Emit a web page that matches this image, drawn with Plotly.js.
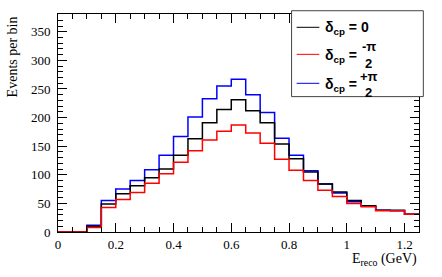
<!DOCTYPE html>
<html>
<head>
<meta charset="utf-8">
<script src="https://cdn.plot.ly/plotly-3.0.1.min.js"></script>
<style>html,body{margin:0;padding:0;background:#fff;}#plot{width:442px;height:277px;}</style>
</head>
<body>
<div id="plot"></div>
<script>
// Bin lower edges (GeV), bin width 0.05
const binLow = [0,0.05,0.10,0.15,0.20,0.25,0.30,0.35,0.40,0.45,0.50,0.55,0.60,0.65,0.70,0.75,0.80,0.85,0.90,0.95,1.00,1.05,1.10,1.15,1.20];
const binWidth = 0.05;
// Events per bin
const dcp0 =    [0,0,10,49,67,81,95,110,134,163,191,214,231,212,191,154,128,105,84,70,55,46,38,38,31];
const dcpMinus =[0,0, 8,43,57,69,85,102,122,142,161,176,187,173,155,127,108, 90,73,62,50,44,37,37,31];
const dcpPlus = [0,0,12,55,75,90,109,134,167,201,233,255,267,240,209,164,134,107,84,68,53,45,38,37,31];

function stepX(){ return binLow.concat([binLow[binLow.length-1]+binWidth]); }
function stepY(v){ return v.concat([v[v.length-1]]); }

const traces = [
  {x: stepX(), y: stepY(dcpPlus), mode:'lines', line:{shape:'hv', color:'#0000ff', width:1.5}},
  {x: stepX(), y: stepY(dcp0), mode:'lines', line:{shape:'hv', color:'#000000', width:1.5}},
  {x: stepX(), y: stepY(dcpMinus), mode:'lines', line:{shape:'hv', color:'#ff0000', width:1.5}}
];

const serif = 'Liberation Serif, Times New Roman, serif';
const sans = 'Liberation Sans, Arial, sans-serif';

const lx0 = 0.661, lx1 = 0.724, tx = 0.737, fx = 0.861;
const lineRows = [0.939, 0.815, 0.682];
const rowColors = ['#000000','#ff0000','#0000ff'];

const shapes = [
  {type:'rect', xref:'paper', yref:'paper', x0:0.647, x1:1.012, y0:0.621, y1:1.015, line:{color:'#444', width:1}, fillcolor:'#ffffff', layer:'above'}
];
lineRows.forEach((ry,i)=>{
  shapes.push({type:'line', xref:'paper', yref:'paper', x0:lx0, x1:lx1, y0:ry, y1:ry, line:{color:rowColors[i], width:1}, layer:'above'});
});

const lf = {family: sans, size: 14, color:'#000'};
const ff = {family: sans, size: 13, color:'#000'};
function ann(x, y, xa, text, font){
  return {xref:'paper', yref:'paper', x:x, y:y, xanchor:xa, yanchor:'middle', text:text, showarrow:false, font:font, borderpad:0};
}
const annotations = [
  ann(tx, 0.936, 'left', '<b>δ<sub>cp</sub> = 0</b>', lf),
  ann(tx, 0.808, 'left', '<b>δ<sub>cp</sub> =</b>', lf),
  ann(fx, 0.850, 'center', '<b>-π</b>', ff),
  ann(fx, 0.772, 'center', '<b>2</b>', ff),
  ann(tx, 0.675, 'left', '<b>δ<sub>cp</sub> =</b>', lf),
  ann(fx, 0.713, 'center', '<b>+π</b>', ff),
  ann(fx, 0.638, 'center', '<b>2</b>', ff),
  {xref:'paper', yref:'paper', x:1.0, y:-0.08, xanchor:'right', yanchor:'top', text:'E<sub>reco</sub> (GeV)', showarrow:false, font:{family:serif, size:14, color:'#000'}},
  {xref:'paper', yref:'paper', x:-0.125, y:0.805, xanchor:'center', yanchor:'middle', textangle:-90, text:'Events per bin', showarrow:false, font:{family:serif, size:14, color:'#000'}}
];

const layout = {
  width:442, height:277,
  margin:{l:58, r:23, t:14, b:45, pad:0},
  paper_bgcolor:'#fff', plot_bgcolor:'#fff',
  showlegend:false,
  xaxis:{range:[0,1.25], tickvals:[0,0.2,0.4,0.6,0.8,1,1.2], ticktext:['0','0.2','0.4','0.6','0.8','1','1.2'],
    ticks:'inside', ticklen:9, tickcolor:'#000', tickwidth:1, showline:true, linecolor:'#000', linewidth:1, mirror:'ticks',
    showgrid:false, zeroline:false, tickfont:{family:serif, size:13, color:'#000'},
    minor:{dtick:0.05, tick0:0, ticks:'inside', ticklen:5, tickcolor:'#000', showgrid:false}},
  yaxis:{range:[0,381], dtick:50, tick0:0, ticks:'inside', ticklen:9, tickcolor:'#000', tickwidth:1,
    showline:true, linecolor:'#000', linewidth:1, mirror:'ticks', showgrid:false, zeroline:false,
    tickfont:{family:serif, size:13, color:'#000'}, ticklabelstandoff:4,
    minor:{dtick:10, tick0:0, ticks:'inside', ticklen:5, tickcolor:'#000', showgrid:false}},
  shapes: shapes,
  annotations: annotations
};

Plotly.newPlot('plot', traces, layout, {displayModeBar:false, staticPlot:true});
</script>
</body>
</html>
